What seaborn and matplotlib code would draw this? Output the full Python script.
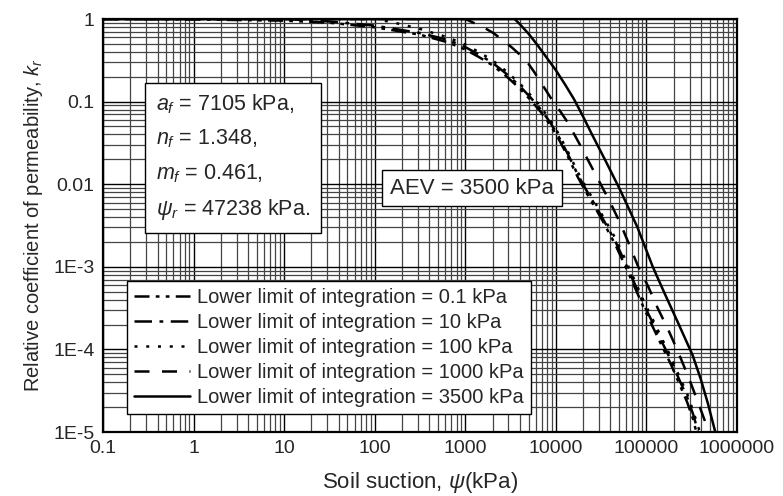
import numpy as np
import pandas as pd
import matplotlib
matplotlib.use("Agg")
import matplotlib.pyplot as plt
import seaborn as sns
from matplotlib.ticker import FixedLocator, FixedFormatter, LogLocator, NullFormatter

# ---- data (log10 of suction in kPa, log10 of kr) ----
log_s_01 = [-1, 0, 1, 1.5, 2, 2.5, 2.8, 3.0, 3.15, 3.3, 3.45, 3.6, 3.72, 3.83, 3.93,
            4.02, 4.13, 4.24, 4.33, 4.41, 4.52, 4.66, 4.77, 4.88, 4.98, 5.08, 5.18,
            5.27, 5.36, 5.45, 5.52, 5.55]
log_kr_01 = [0, -0.005, -0.02, -0.045, -0.10, -0.19, -0.28, -0.37, -0.46, -0.56, -0.69,
             -0.84, -0.98, -1.12, -1.27, -1.43, -1.66, -1.91, -2.09, -2.24, -2.45, -2.74,
             -3.0, -3.27, -3.52, -3.75, -3.98, -4.18, -4.41, -4.64, -4.86, -5.0]

log_s_10 = [-1, 1, 1.5, 2, 2.5, 2.8, 3.0, 3.15, 3.3, 3.45, 3.6, 3.72, 3.83, 3.93,
            4.02, 4.13, 4.24, 4.33, 4.41, 4.52, 4.66, 4.77, 4.88, 4.98, 5.08, 5.18,
            5.27, 5.36, 5.45, 5.52, 5.57]
log_kr_10 = [0, 0, -0.03, -0.08, -0.17, -0.25, -0.34, -0.43, -0.53, -0.66, -0.81, -0.95,
             -1.09, -1.24, -1.40, -1.63, -1.88, -2.06, -2.21, -2.42, -2.70, -2.96, -3.23,
             -3.48, -3.70, -3.93, -4.13, -4.36, -4.58, -4.80, -5.0]

log_s_100 = [-1, 2, 2.2, 2.5, 2.8, 3.0, 3.15, 3.3, 3.45, 3.6, 3.72, 3.83, 3.93,
             4.02, 4.13, 4.24, 4.33, 4.41, 4.52, 4.66, 4.77, 4.88, 4.98, 5.08, 5.18,
             5.27, 5.36, 5.45, 5.52, 5.59]
log_kr_100 = [0, 0, -0.04, -0.12, -0.22, -0.31, -0.40, -0.50, -0.63, -0.78, -0.92, -1.06,
              -1.21, -1.37, -1.60, -1.85, -2.03, -2.18, -2.39, -2.66, -2.92, -3.19, -3.44,
              -3.66, -3.89, -4.09, -4.32, -4.54, -4.76, -5.0]

log_s_1000 = [-1, 3.0, 3.1, 3.2, 3.31, 3.42, 3.52, 3.61, 3.69, 3.76, 3.83, 3.9, 3.97,
              4.05, 4.13, 4.25, 4.37, 4.49, 4.6, 4.71, 4.81, 4.91, 5.02, 5.12, 5.24,
              5.35, 5.48, 5.6, 5.69]
log_kr_1000 = [0, 0, -0.05, -0.1, -0.17, -0.26, -0.35, -0.44, -0.53, -0.64, -0.76, -0.88,
               -1.0, -1.12, -1.25, -1.49, -1.74, -1.99, -2.22, -2.47, -2.73, -3.0, -3.24,
               -3.49, -3.76, -4.03, -4.38, -4.73, -5.0]

log_s_3500 = [-1, 3.544, 3.6, 3.7, 3.8, 3.9, 4.0, 4.1, 4.2, 4.3, 4.4, 4.55, 4.71, 4.9,
              5.07, 5.2, 5.35, 5.51, 5.6, 5.68, 5.76]
log_kr_3500 = [0, 0, -0.06, -0.18, -0.32, -0.47, -0.62, -0.79, -0.97, -1.18, -1.40,
               -1.72, -2.07, -2.52, -3.0, -3.32, -3.68, -4.07, -4.36, -4.66, -5.0]

labels = ["Lower limit of integration = 0.1 kPa",
          "Lower limit of integration = 10 kPa",
          "Lower limit of integration = 100 kPa",
          "Lower limit of integration = 1000 kPa",
          "Lower limit of integration = 3500 kPa"]

x_ticks = [0.1, 1, 10, 100, 1000, 10000, 100000, 1000000]
x_ticklabels = ["0.1", "1", "10", "100", "1000", "10000", "100000", "1000000"]
y_ticks = [1e-5, 1e-4, 1e-3, 1e-2, 1e-1, 1]
y_ticklabels = ["1E-5", "1E-4", "1E-3", "0.01", "0.1", "1"]

params_text = ["$a_f$ = 7105 kPa,", "$n_f$ = 1.348,", "$m_f$ = 0.461,",
               "$\\psi_r$ = 47238 kPa."]
aev_text = "AEV = 3500 kPa"

# ---- style ----
sns.set_style("white")
plt.rcParams["font.family"] = ["Liberation Sans", "DejaVu Sans"]
plt.rcParams["mathtext.fontset"] = "custom"
plt.rcParams["mathtext.rm"] = "Liberation Sans"
plt.rcParams["mathtext.it"] = "Liberation Sans:italic"
plt.rcParams["mathtext.bf"] = "Liberation Sans:bold"

fig = plt.figure(figsize=(7.83, 4.96), dpi=100)
ax = fig.add_axes([103 / 783, 1 - 432 / 496, (737 - 103) / 783, (432 - 19) / 496])

styles = [(0, (6, 2.5, 1.5, 2.5, 1.5, 2.5)),
          (0, (7, 3, 1.5, 3)),
          (0, (1.2, 3.5)),
          (0, (6, 5)),
          "-"]
data_pairs = [(log_s_01, log_kr_01), (log_s_10, log_kr_10), (log_s_100, log_kr_100),
              (log_s_1000, log_kr_1000), (log_s_3500, log_kr_3500)]

frames = []
for (ls_, lk_), lab in zip(data_pairs, labels):
    frames.append(pd.DataFrame({"suction": 10.0 ** np.array(ls_),
                                "kr": 10.0 ** np.array(lk_), "case": lab}))
df = pd.concat(frames, ignore_index=True)

for lab, ls in zip(labels, styles):
    sub = df[df["case"] == lab]
    sns.lineplot(data=sub, x="suction", y="kr", ax=ax, color="black",
                 linewidth=1.8, linestyle=ls, sort=False, label=lab,
                 estimator=None)

ax.set_xscale("log")
ax.set_yscale("log")
ax.set_xlim(0.1, 1e6)
ax.set_ylim(1e-5, 1)

ax.xaxis.set_major_locator(FixedLocator(x_ticks))
ax.xaxis.set_major_formatter(FixedFormatter(x_ticklabels))
ax.yaxis.set_major_locator(FixedLocator(y_ticks))
ax.yaxis.set_major_formatter(FixedFormatter(y_ticklabels))
ax.xaxis.set_minor_locator(LogLocator(base=10, subs=np.arange(2, 10), numticks=50))
ax.yaxis.set_minor_locator(LogLocator(base=10, subs=np.arange(2, 10), numticks=50))
ax.xaxis.set_minor_formatter(NullFormatter())
ax.yaxis.set_minor_formatter(NullFormatter())

ax.grid(True, which="major", color="black", linewidth=1.0)
ax.grid(True, which="minor", color="#444444", linewidth=0.9)
ax.set_axisbelow(True)
ax.tick_params(which="both", length=0, labelsize=14, pad=6)
for sp in ax.spines.values():
    sp.set_color("black")
    sp.set_linewidth(1.6)

ax.set_xlabel("Soil suction, $\\psi$(kPa)", fontsize=16, labelpad=9)
ax.set_ylabel("Relative coefficient of permeability, $k_r$", fontsize=14.5, labelpad=6)

leg = ax.legend(loc="lower left", bbox_to_anchor=(127 / 783, 1 - 414 / 496),
                bbox_transform=fig.transFigure, fontsize=14.5, frameon=True,
                fancybox=False, edgecolor="black", framealpha=1,
                handlelength=2.8, handletextpad=0.35, labelspacing=0.3,
                borderpad=0.35, borderaxespad=0)
leg.get_frame().set_linewidth(1.0)

fig.text(156 / 783, 1 - 92 / 496, "\n".join(params_text), fontsize=15.5,
         va="top", ha="left", linespacing=1.7,
         bbox=dict(boxstyle="square,pad=0.5", facecolor="white",
                   edgecolor="black", linewidth=1.0))

fig.text(472 / 783, 1 - 188 / 496, aev_text, fontsize=16, va="center", ha="center",
         bbox=dict(boxstyle="square,pad=0.35", facecolor="white",
                   edgecolor="black", linewidth=1.0))

fig.savefig("out.png", dpi=100, facecolor="white")
